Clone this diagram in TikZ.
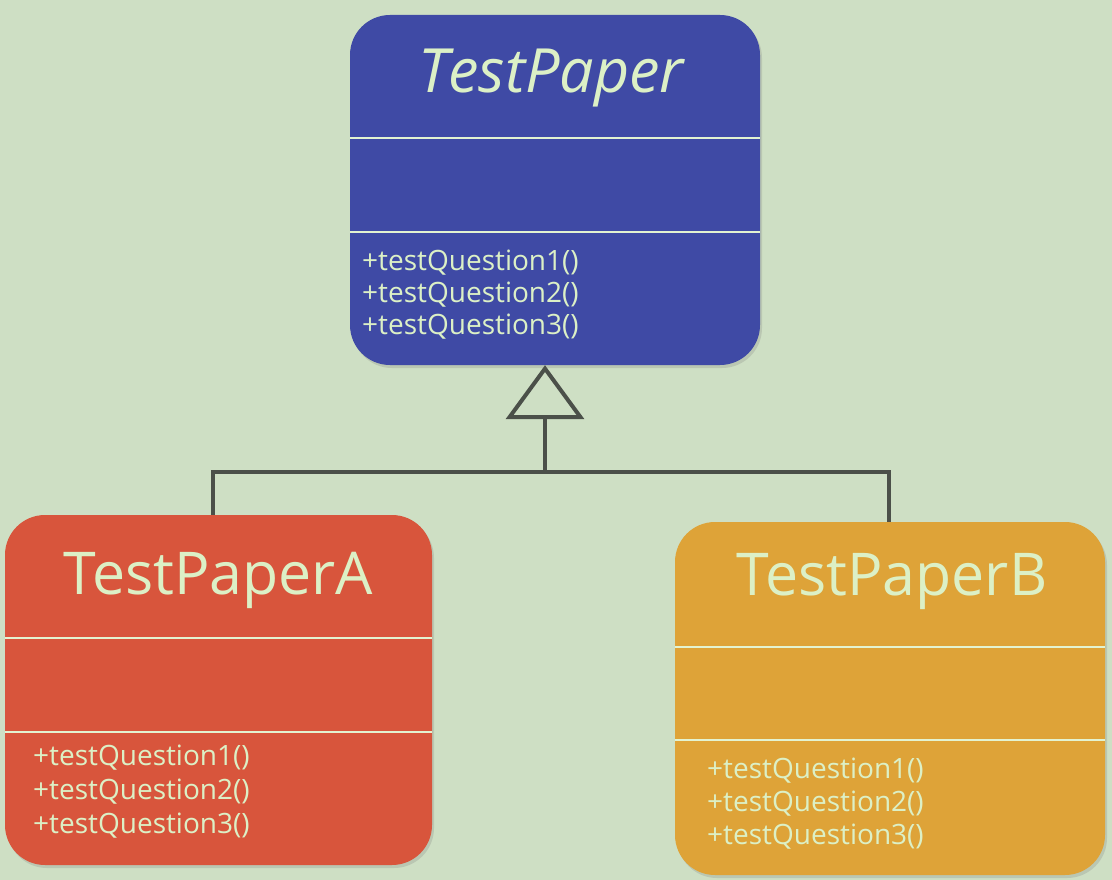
\documentclass[tikz,border=0pt]{standalone}
\usepackage{fontspec}
\setmainfont{Open Sans}
\usetikzlibrary{arrows.meta,shadows}
\definecolor{bgcol}{HTML}{CEDFC4}
\definecolor{paperblue}{HTML}{3F4AA5}
\definecolor{paperred}{HTML}{D8553C}
\definecolor{paperorange}{HTML}{DEA338}
\definecolor{textcol}{HTML}{DCF0C6}
\definecolor{linecol}{HTML}{4B5049}
\tikzset{
  classbox/.style={rectangle, rounded corners=40pt, inner sep=0pt,
    drop shadow={opacity=0.25, shadow xshift=2pt, shadow yshift=-3pt}},
  classname/.style={text=textcol, font=\fontsize{59}{70}\selectfont},
  methods/.style={text=textcol, align=left, inner sep=0pt, anchor=north west,
    font=\fontsize{28}{32}\selectfont},
  sepline/.style={textcol!80, line width=1.5pt},
  inherit/.style={linecol, line width=4pt}
}
\begin{document}
\begin{tikzpicture}[x=1pt,y=-1pt]
\useasboundingbox[fill=bgcol] (0,0) rectangle (1112,880);
%TESTPAPER
\node[classbox, fill=paperblue, minimum width=410pt, minimum height=350pt] (paper) at (555,190) {};
\node[classname, font=\fontsize{61}{70}\selectfont] (paperTitle) at (552,78) {\textit{TestPaper}};
\draw[sepline] (paper.west |- 0,138) -- (paper.east |- 0,138);
\draw[sepline] (paper.west |- 0,232) -- (paper.east |- 0,232);
\node[methods] (paperOps) at (362,250) {+testQuestion1()\\+testQuestion2()\\+testQuestion3()};

%TESTPAPER A
\node[classbox, fill=paperred, minimum width=427pt, minimum height=350pt] (paperA) at (218.5,690) {};
\node[classname] (paperATitle) at (218.5,580) {TestPaperA};
\draw[sepline] (paperA.west |- 0,638) -- (paperA.east |- 0,638);
\draw[sepline] (paperA.west |- 0,732) -- (paperA.east |- 0,732);
\node[methods, font=\fontsize{28}{34}\selectfont] (paperAOps) at (33,745) {+testQuestion1()\\+testQuestion2()\\+testQuestion3()};

%TESTPAPER B
\node[classbox, fill=paperorange, minimum width=430pt, minimum height=353pt] (paperB) at (890,698.5) {};
\node[classname] (paperBTitle) at (892,582) {TestPaperB};
\draw[sepline] (paperB.west |- 0,647) -- (paperB.east |- 0,647);
\draw[sepline] (paperB.west |- 0,740) -- (paperB.east |- 0,740);
\node[methods, font=\fontsize{28}{33}\selectfont] (paperBOps) at (707,758) {+testQuestion1()\\+testQuestion2()\\+testQuestion3()};

%INHERITANCE
\coordinate (join) at (545,472);
\draw[inherit] (paperA.north -| 213,0) |- (join);
\draw[inherit] (paperB.north -| 889,0) |- (join);
\draw[inherit, -{Triangle[open, length=54pt, width=78pt, line width=4pt]}] (join) -- (join |- paper.south);
\end{tikzpicture}
\end{document}
